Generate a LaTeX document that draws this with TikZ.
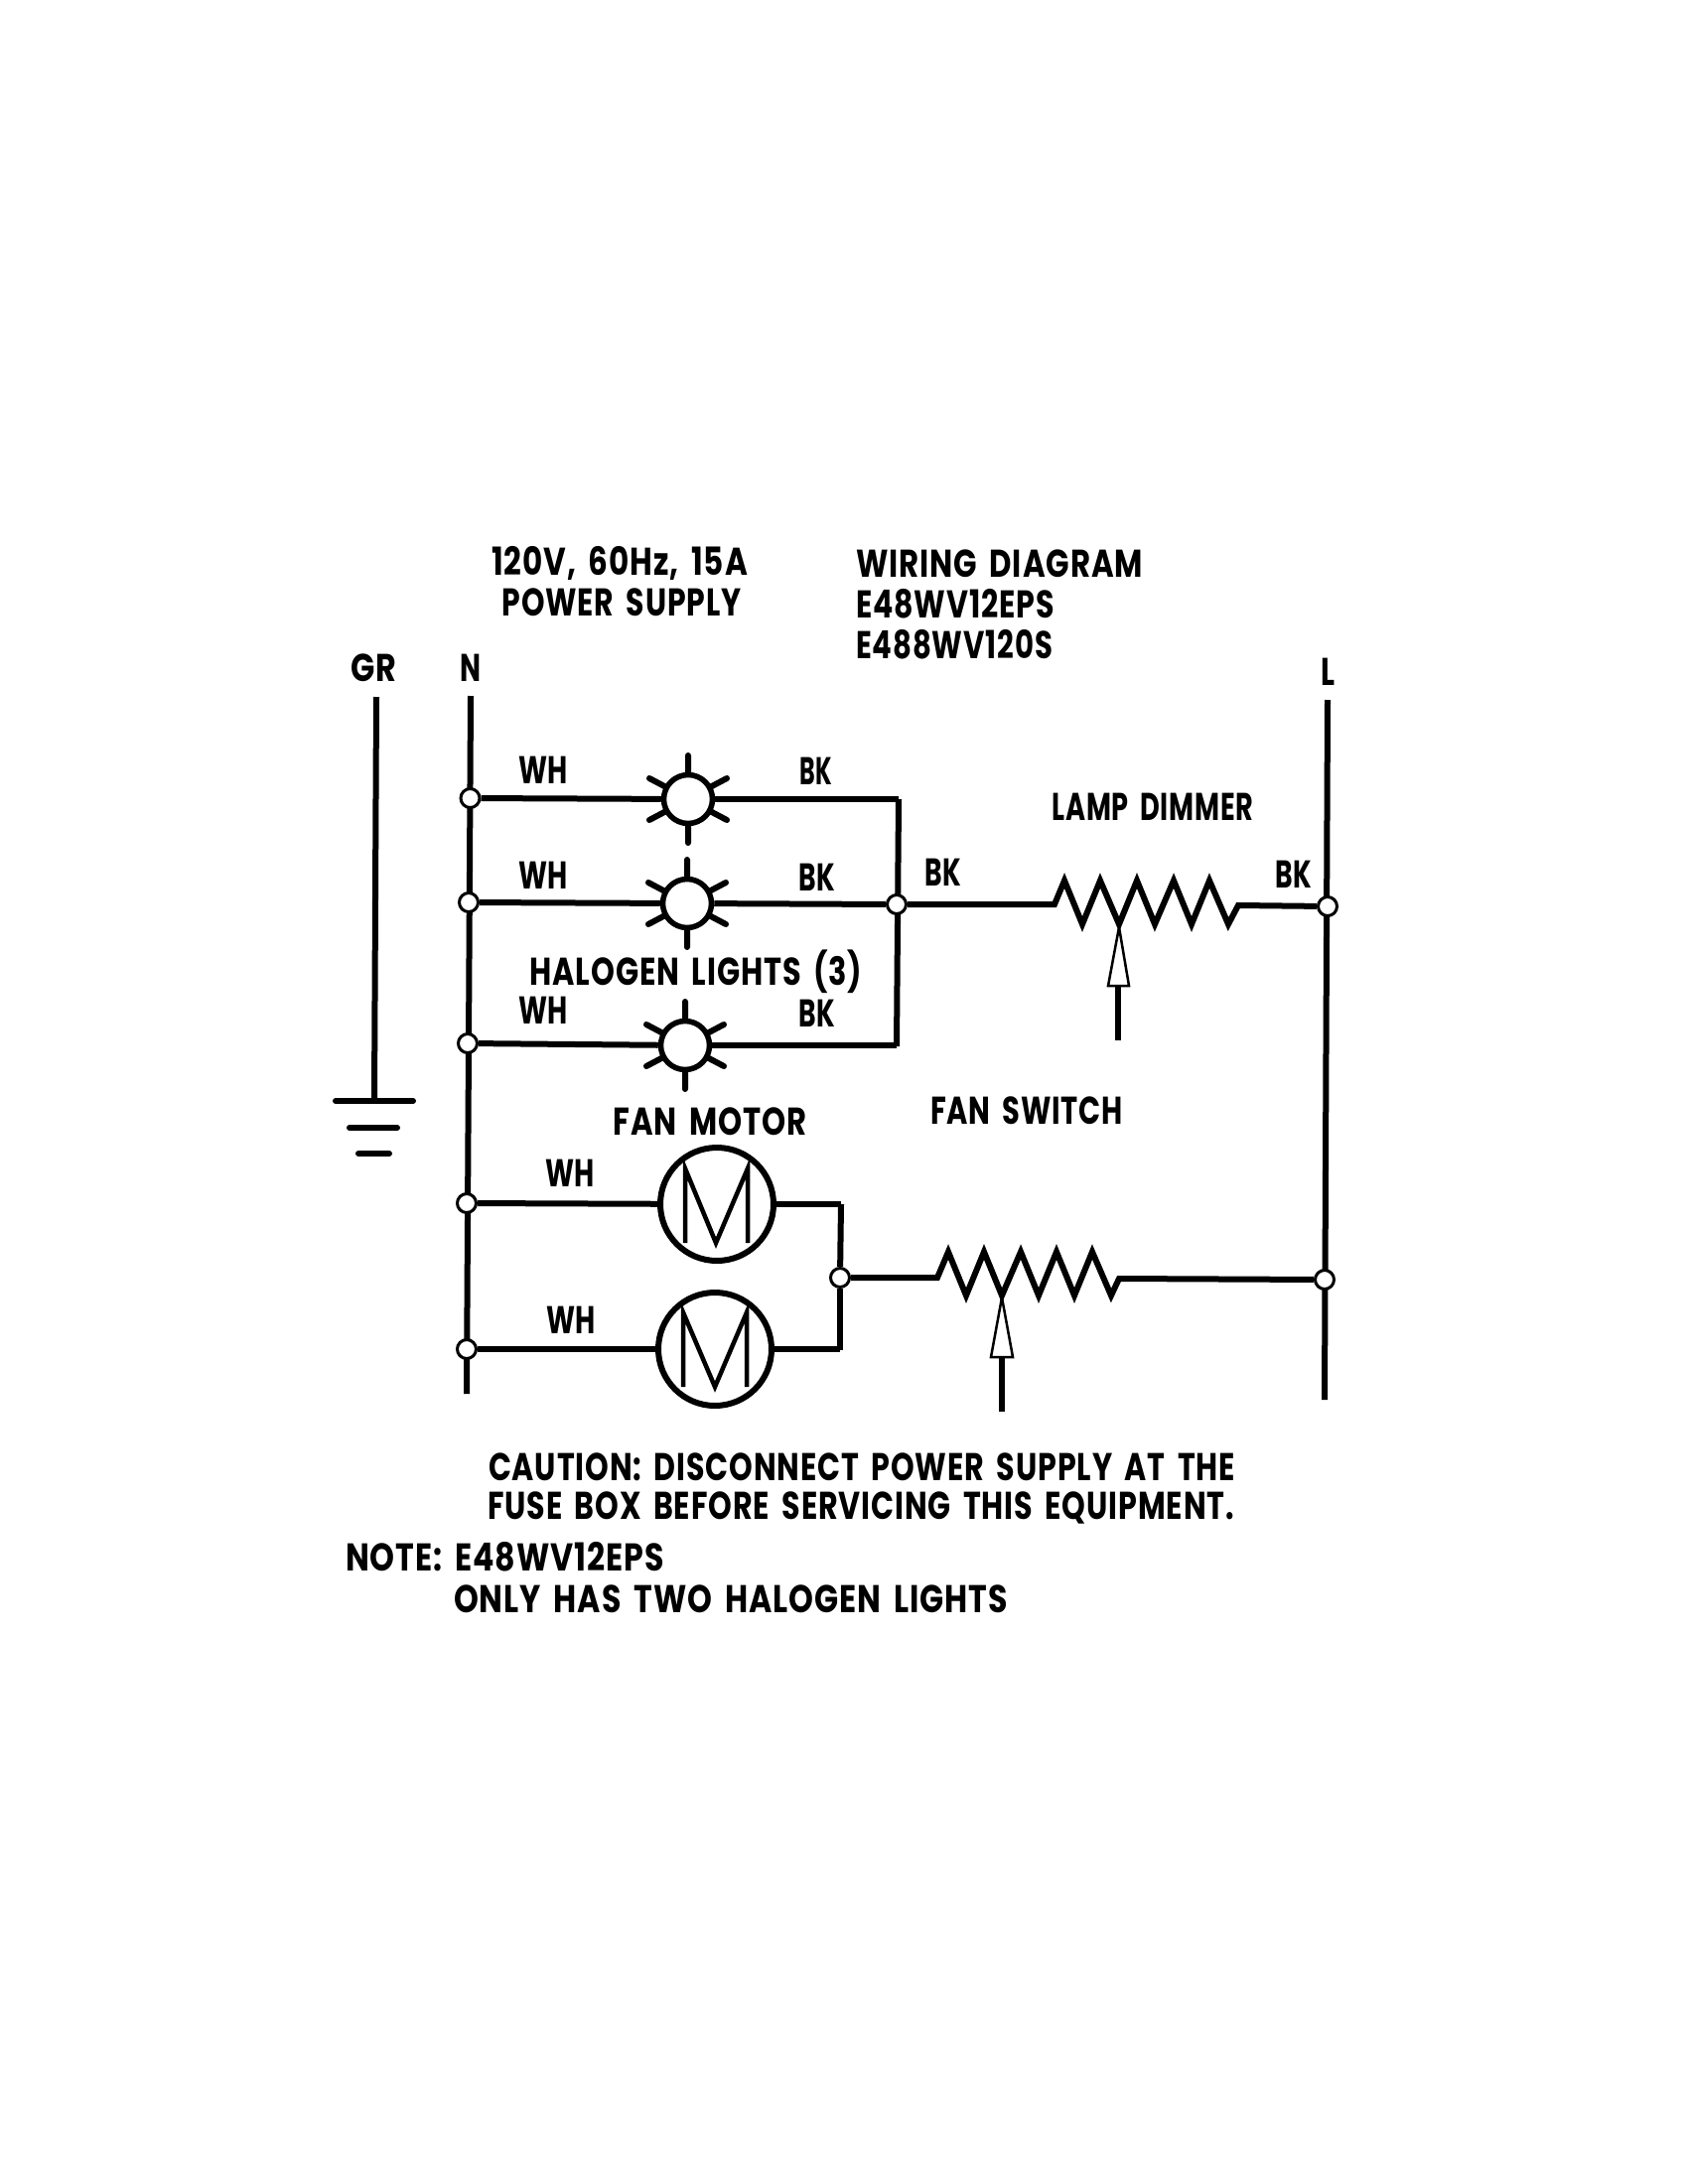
\documentclass[tikz,border=0pt]{standalone}
\usepackage{fontspec}
\usepackage{graphicx}
\setmainfont{Poppins}[LetterSpace=3,WordSpace=1.7]
\newsavebox{\fitbox}
\newcommand{\fitw}[2]{\sbox{\fitbox}{\fontsize{39pt}{39pt}\selectfont\bfseries #2}\resizebox{#1pt}{\ht\fitbox}{\usebox{\fitbox}}}
\newcommand{\lamprays}[1]{%
  \draw[wire,shift={(#1.center)},line cap=round] (0,-44) -- (0,-25) (0,44) -- (0,25)
    (-39,-21) -- (-22,-12) (39,-21) -- (22,-12) (-39,21) -- (-22,12) (39,21) -- (22,12);}
\pgfdeclarelayer{wires}
\pgfsetlayers{wires,main}
\tikzset{
  wire/.style={line width=6pt,line join=miter},
  zigzag/.style={line width=6pt,line join=miter,miter limit=10},
  junction/.style={circle,draw,line width=3pt,fill=white,minimum size=19pt,inner sep=0pt},
  lamp/.style={circle,draw,line width=5.5pt,fill=white,minimum size=49pt,inner sep=0pt},
  motor/.style={circle,draw,line width=6pt,fill=white,minimum size=114pt,inner sep=0pt},
  mletter/.style={line width=4.5pt,line join=miter,miter limit=10},
  arrowshape/.style={line width=2.5pt,fill=white,line join=miter},
  label/.style={inner sep=0pt,outer sep=0pt}
}
\begin{document}
\begin{tikzpicture}[x=1pt,y=-1pt]
\useasboundingbox (0,0) rectangle (1700,2200);
% end points of the rails
\coordinate (grtop) at (379,702);
\coordinate (grbot) at (377,1109);
\coordinate (ntop) at (474,701);
\coordinate (nbot) at (470,1404);
\coordinate (ltop) at (1337,705);
\coordinate (lbot) at (1334,1410);
\coordinate (bustop) at (905,805);
\coordinate (busbot) at (903,1054);
\coordinate (fantop) at (847,1213);
\coordinate (fanbot) at (846,1360);
\coordinate (g1a) at (338,1109); \coordinate (g1b) at (416,1109);
\coordinate (g2a) at (352,1136); \coordinate (g2b) at (400,1136);
\coordinate (g3a) at (361,1162); \coordinate (g3b) at (392,1162);
% junctions
\node[junction] (j1) at (473.5,804) {};
\node[junction] (j2) at (472,909) {};
\node[junction] (j3) at (471,1051) {};
\node[junction] (j4) at (470,1212) {};
\node[junction] (j5) at (470,1359) {};
\node[junction] (jb) at (903,911) {};
\node[junction] (jl) at (1337,913) {};
\node[junction] (jf) at (846,1287) {};
\node[junction] (jr) at (1334,1289) {};
% lamps and motors
\node[lamp] (l1) at (693,805) {};
\node[lamp] (l2) at (692,910) {};
\node[lamp] (l3) at (690,1053) {};
\node[motor] (m1) at (722,1213) {};
\node[motor] (m2) at (720,1359) {};
\begin{pgfonlayer}{wires}
\fill[white] (0,0) rectangle (1700,2200);
% ground
\draw[wire] (grtop) -- (grbot);
\draw[wire,line cap=round] (g1a) -- (g1b);
\draw[wire,line cap=round] (g2a) -- (g2b);
\draw[wire,line cap=round] (g3a) -- (g3b);
% rails
\draw[wire] (ntop) -- (nbot);
\draw[wire] (ltop) -- (lbot);
\draw[wire] (bustop) -- (busbot);
% branches
\draw[wire] (j1) -- (l1);
\draw[wire] (j2) -- (l2);
\draw[wire] (j3) -- (l3);
\draw[wire] (j4) -- (m1);
\draw[wire] (j5) -- (m2);
\draw[wire] (l1) -- (l1-|bustop) -- (bustop);
\draw[wire] (l2) -- (jb);
\draw[wire] (l3) -- (l3-|busbot) -- (busbot);
\draw[wire] (m1) -- (m1-|fantop) -- (fantop);
\draw[wire] (m2) -- (m2-|fanbot) -- (fanbot);
\draw[wire] (fantop) -- (jf);
\draw[wire] (fanbot) -- (jf);
% lamp dimmer resistor
\draw[zigzag] (jb) -- (1062,911) -- (1072,887) -- (1090,931) -- (1108,887) -- (1127,931) -- (1145,887) -- (1163,931) -- (1182,887) -- (1200,931) -- (1218,887) -- (1237,931) -- (1247,912) -- (jl);
% fan switch resistor
\draw[zigzag] (jf) -- (944,1287) -- (955,1261) -- (973,1305) -- (991,1261) -- (1009,1305) -- (1028,1261) -- (1046,1305) -- (1064,1261) -- (1082,1305) -- (1100,1261) -- (1119,1305) -- (1127,1288) -- (jr);
\end{pgfonlayer}
\lamprays{l1}
\lamprays{l2}
\lamprays{l3}
% M letters
\draw[mletter] (690,1252) -- (690,1177) -- (721,1252) -- (753,1177) -- (753,1252);
\draw[mletter] (688,1397) -- (688,1322) -- (720,1397) -- (752,1322) -- (752,1397);
% sliders
\coordinate (dtip) at (1127,934);
\coordinate (dstem) at (1126,1048);
\draw[arrowshape] (dtip) -- (1137,993) -- (1116,993) -- cycle;
\draw[wire] (1126,993) -- (dstem);
\coordinate (ftip) at (1009,1307);
\coordinate (fstem) at (1009,1422);
\draw[arrowshape] (ftip) -- (1020,1367) -- (998,1367) -- cycle;
\draw[wire] (1009,1367) -- (fstem);
% labels
\node[label] (t1) at (624,567) {\fitw{258}{120V, 60Hz, 15A}};
\node[label] (t2) at (626,607) {\fitw{241}{POWER SUPPLY}};
\node[label,anchor=west] (t3) at (862,568) {\fitw{289}{WIRING DIAGRAM}};
\node[label,anchor=west] (t4) at (862,608) {\fitw{200}{E48WV12EPS}};
\node[label,anchor=west] (t5) at (862,649) {\fitw{198}{E488WV120S}};
\node[label] (gr) at (376,673) {\fitw{46}{GR}};
\node[label] (nn) at (474,673) {\fitw{21}{N}};
\node[label] (ll) at (1337,677) {\fitw{14}{L}};
\node[label] (w1) at (547,776) {\fitw{50}{WH}};
\node[label] (b1) at (822,777) {\fitw{33}{BK}};
\node[label] (w2) at (547,882) {\fitw{50}{WH}};
\node[label] (b2) at (823,884) {\fitw{37}{BK}};
\node[label] (hl) at (701,979) {\fitw{335}{HALOGEN LIGHTS (3)}};
\node[label] (w3) at (547,1018) {\fitw{50}{WH}};
\node[label] (b3) at (823,1021) {\fitw{37}{BK}};
\node[label] (b4) at (950,879) {\fitw{37}{BK}};
\node[label] (b5) at (1303,881) {\fitw{37}{BK}};
\node[label] (ld) at (1161,813) {\fitw{203}{LAMP DIMMER}};
\node[label] (fm) at (715,1130) {\fitw{195}{FAN MOTOR}};
\node[label] (fs) at (1034,1119) {\fitw{194}{FAN SWITCH}};
\node[label] (w4) at (574,1182) {\fitw{50}{WH}};
\node[label] (w5) at (575,1330) {\fitw{50}{WH}};
\node[label,anchor=west] (c1) at (492,1478) {\fitw{752}{CAUTION: DISCONNECT POWER SUPPLY AT THE}};
\node[label,anchor=west] (c2) at (491,1519) {\fitw{752}{FUSE BOX BEFORE SERVICING THIS EQUIPMENT.}};
\node[label,anchor=west] (n1) at (348,1568) {\fitw{321}{NOTE: E48WV12EPS}};
\node[label,anchor=west] (n2) at (457,1611) {\fitw{558}{ONLY HAS TWO HALOGEN LIGHTS}};
\end{tikzpicture}
\end{document}
